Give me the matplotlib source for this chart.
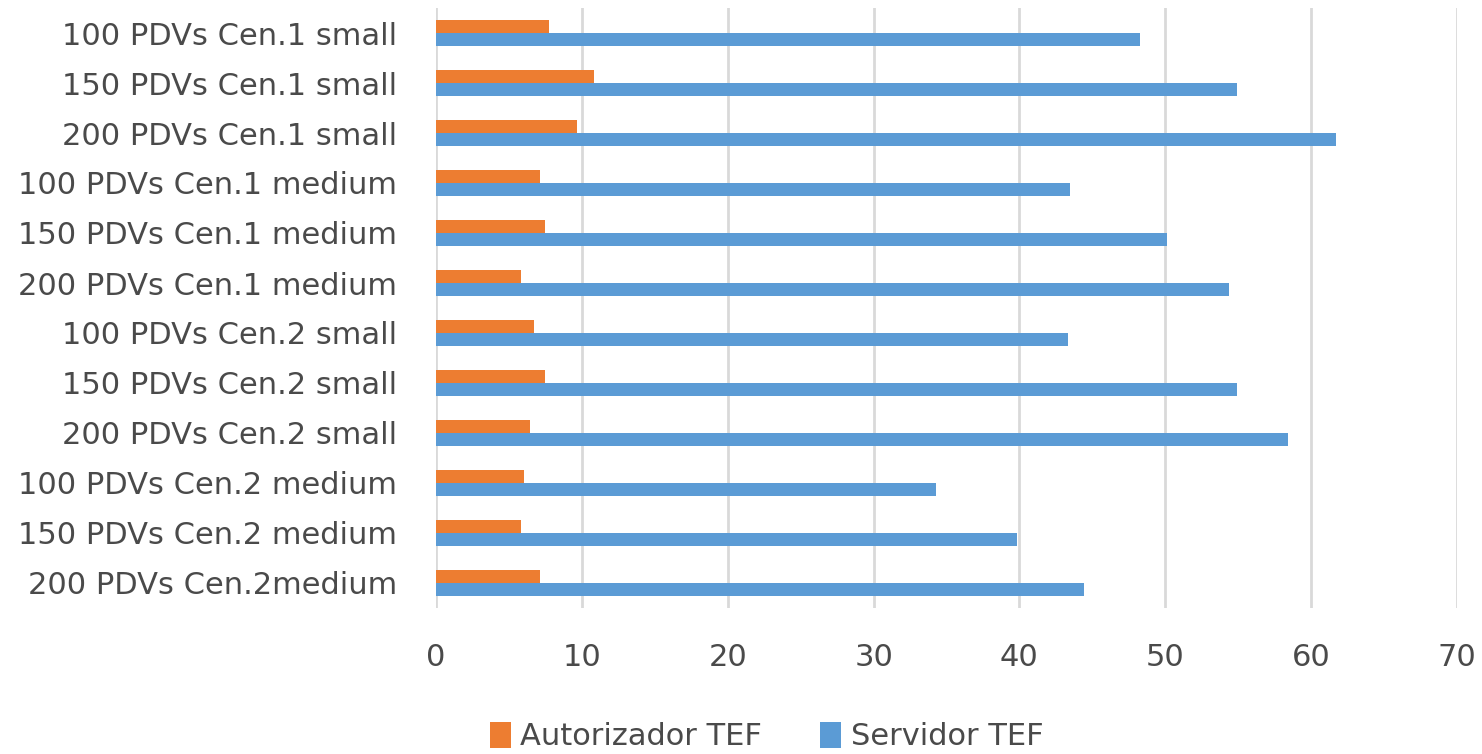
import matplotlib.pyplot as plt
import numpy as np

# Tempo medio por cenario: Autorizador TEF vs Servidor TEF

categorias = [
    "100 PDVs Cen.1 small", "150 PDVs Cen.1 small", "200 PDVs Cen.1 small",
    "100 PDVs Cen.1 medium", "150 PDVs Cen.1 medium", "200 PDVs Cen.1 medium",
    "100 PDVs Cen.2 small", "150 PDVs Cen.2 small", "200 PDVs Cen.2 small",
    "100 PDVs Cen.2 medium", "150 PDVs Cen.2 medium", "200 PDVs Cen.2medium",
]
autorizador = [7.75, 10.8, 9.7, 7.1, 7.5, 5.8, 6.7, 7.5, 6.45, 6.0, 5.8, 7.1]
servidor = [48.3, 54.9, 61.7, 43.5, 50.1, 54.4, 43.3, 54.9, 58.4, 34.3, 39.8, 44.4]
xticks = [0, 10, 20, 30, 40, 50, 60, 70]

plt.rcParams['font.family'] = ['DejaVu Sans']

fig = plt.figure(figsize=(14.82, 7.54), dpi=100)
ax = fig.add_axes([436/1482, 1 - 608/754, (1457-436)/1482, (608-8)/754])

y = np.arange(len(categorias))
h = 0.26
ax.barh(y - h/2, autorizador, height=h, color='#ed7d31', label='Autorizador TEF', zorder=3)
ax.barh(y + h/2, servidor, height=h, color='#5b9bd5', label='Servidor TEF', zorder=3)

ax.set_ylim(len(categorias) - 0.5, -0.5)
ax.set_xlim(0, 70)
ax.set_yticks(y)
ax.set_yticklabels(categorias, fontsize=22, color='#4a4a4a')
ax.set_xticks(xticks)
ax.set_xticklabels([str(t) for t in xticks], fontsize=22, color='#4a4a4a')
ax.tick_params(length=0)
ax.tick_params(axis='y', pad=28)
ax.tick_params(axis='x', pad=25)

ax.grid(axis='x', color='#d9d9d9', linewidth=2, zorder=0)
for s in ['top', 'right', 'bottom', 'left']:
    ax.spines[s].set_visible(False)

leg = fig.legend(loc='lower left', bbox_to_anchor=(462/1482, -0.033), ncol=2,
                 frameon=False, fontsize=22, handlelength=0.7, handleheight=0.9,
                 handletextpad=0.3, columnspacing=1.9)
for t in leg.get_texts():
    t.set_color('#4a4a4a')

fig.savefig('out.png', dpi=100)
